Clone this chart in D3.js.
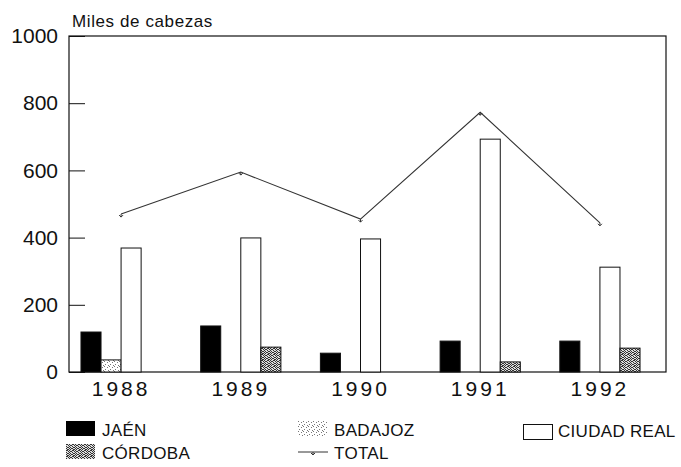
<!DOCTYPE html>
<html>
<head>
<meta charset="utf-8">
<script src="https://d3js.org/d3.v7.min.js"></script>
<style>
  body { margin: 0; background: #fff; }
  svg text { font-family: "Liberation Sans", Arial, sans-serif; fill: #111; }
</style>
</head>
<body>
<div id="my_dataviz"></div>
<script>

// data (miles de cabezas)
var years = ["1988", "1989", "1990", "1991", "1992"];
var series = ["JAÉN", "BADAJOZ", "CIUDAD REAL", "CÓRDOBA"];
var jaen = [119, 137, 56, 92, 92];
var badajoz = [36, 0, 0, 0, 0];
var ciudadReal = [369, 399, 396, 693, 312];
var cordoba = [0, 74, 0, 30, 71];
var total = [470, 595, 455, 773, 444];
var yTicks = [0, 200, 400, 600, 800, 1000];

var values = [jaen, badajoz, ciudadReal, cordoba];

var width = 681, height = 467;
var margin = {top: 36, right: 15, bottom: 95, left: 69};
var plotW = width - margin.left - margin.right,
    plotH = height - margin.top - margin.bottom;

var svg = d3.select("#my_dataviz")
  .append("svg")
    .attr("width", width)
    .attr("height", height);

// fill patterns for the scanned look
var defs = svg.append("defs");
var pBad = defs.append("pattern")
  .attr("id", "pat-badajoz")
  .attr("patternUnits", "userSpaceOnUse")
  .attr("width", 5).attr("height", 5);
pBad.append("rect").attr("width", 5).attr("height", 5).attr("fill", "#fff");
[[0, 0], [3, 1], [1, 3], [4, 4]].forEach(function(p) {
  pBad.append("rect").attr("x", p[0]).attr("y", p[1])
    .attr("width", 1).attr("height", 1).attr("fill", "#777");
});

var pCor = defs.append("pattern")
  .attr("id", "pat-cordoba")
  .attr("patternUnits", "userSpaceOnUse")
  .attr("width", 6).attr("height", 6);
pCor.append("rect").attr("width", 6).attr("height", 6).attr("fill", "#ddd");
[[0, 0], [1, 0], [3, 0], [2, 1], [4, 1], [5, 1], [0, 2], [3, 2], [1, 3], [2, 3], [4, 3],
 [5, 4], [0, 4], [3, 4], [1, 5], [2, 5], [4, 5]].forEach(function(p) {
  pCor.append("rect").attr("x", p[0]).attr("y", p[1])
    .attr("width", 1).attr("height", 1).attr("fill", "#333");
});

var fills = {
  "JAÉN": "#000",
  "BADAJOZ": "url(#pat-badajoz)",
  "CIUDAD REAL": "#fff",
  "CÓRDOBA": "url(#pat-cordoba)"
};

var g = svg.append("g")
  .attr("transform", "translate(" + margin.left + "," + margin.top + ")");

// scales (groups sit a bit left of centre in the original)
var x0 = d3.scaleBand()
  .domain(years)
  .range([0, plotW - 14])
  .paddingInner(0.33)
  .paddingOuter(0.1);

var x1 = d3.scaleBand()
  .domain(series)
  .range([0, x0.bandwidth()]);

var y = d3.scaleLinear()
  .domain([0, 1000])
  .range([plotH, 0]);

// frame
g.append("rect")
  .attr("width", plotW)
  .attr("height", plotH)
  .attr("fill", "none")
  .attr("stroke", "#111")
  .attr("stroke-width", 1.2);

// y axis, ticks pointing inward
var yAxis = g.append("g")
  .call(d3.axisLeft(y).tickValues(yTicks).tickFormat(d3.format("d"))
    .tickSizeInner(-16).tickSizeOuter(0).tickPadding(11));
yAxis.select(".domain").remove();
yAxis.selectAll("line").attr("stroke", "#111");
yAxis.selectAll("text")
  .style("font-size", "21px")
  .attr("fill", "#111");

// x axis labels
var xAxis = g.append("g")
  .attr("transform", "translate(0," + plotH + ")")
  .call(d3.axisBottom(x0).tickSize(0).tickPadding(9));
xAxis.select(".domain").remove();
xAxis.selectAll("text")
  .style("font-size", "21px")
  .style("letter-spacing", "3px")
  .attr("fill", "#111");

// bars
var rows = [];
years.forEach(function(yr, i) {
  series.forEach(function(s, j) {
    rows.push({year: yr, key: s, value: values[j][i]});
  });
});

g.selectAll("rect.bar")
  .data(rows.filter(function(d) { return d.value > 0; }))
  .enter()
  .append("rect")
    .attr("class", "bar")
    .attr("x", function(d) { return x0(d.year) + x1(d.key); })
    .attr("y", function(d) { return y(d.value); })
    .attr("width", x1.bandwidth())
    .attr("height", function(d) { return plotH - y(d.value); })
    .attr("fill", function(d) { return fills[d.key]; })
    .attr("stroke", "#111")
    .attr("stroke-width", 1);

// total line
var cx = function(yr) { return x0(yr) + x0.bandwidth() / 2; };
var line = d3.line()
  .x(function(d, i) { return cx(years[i]); })
  .y(function(d) { return y(d); });

g.append("path")
  .datum(total)
  .attr("d", line)
  .attr("fill", "none")
  .attr("stroke", "#333")
  .attr("stroke-width", 1.1);

g.selectAll("path.mark")
  .data(total)
  .enter()
  .append("path")
    .attr("class", "mark")
    .attr("transform", function(d, i) { return "translate(" + cx(years[i]) + "," + y(d) + ")"; })
    .attr("d", "M-2,1L0,3L2,1M0,0L0,3")
    .attr("fill", "none")
    .attr("stroke", "#333")
    .attr("stroke-width", 1);

// unit label
svg.append("text")
  .attr("x", 72)
  .attr("y", 27)
  .style("font-size", "17px")
  .style("letter-spacing", "0.6px")
  .text("Miles de cabezas");

// legend
var legendItems = [
  {key: "JAÉN", col: 0, row: 0},
  {key: "BADAJOZ", col: 1, row: 0},
  {key: "CIUDAD REAL", col: 2, row: 0},
  {key: "CÓRDOBA", col: 0, row: 1},
  {key: "TOTAL", col: 1, row: 1}
];
var colX = [66, 298, 523], rowY = [421, 444];

var leg = svg.selectAll("g.legend")
  .data(legendItems)
  .enter()
  .append("g")
    .attr("class", "legend")
    .attr("transform", function(d) { return "translate(" + colX[d.col] + "," + rowY[d.row] + ")"; });

leg.filter(function(d) { return d.key !== "TOTAL"; })
  .append("rect")
    .attr("x", function(d) { return d.key === "CIUDAD REAL" ? 0.5 : 0; })
    .attr("y", function(d) { return d.key === "CIUDAD REAL" ? 3.5 : 0; })
    .attr("width", 29)
    .attr("height", 15)
    .attr("fill", function(d) { return fills[d.key]; })
    .attr("stroke", function(d) { return d.key === "CIUDAD REAL" ? "#111" : "none"; });

var totLeg = leg.filter(function(d) { return d.key === "TOTAL"; });
totLeg.append("line")
  .attr("x1", 0).attr("x2", 30)
  .attr("y1", 8).attr("y2", 8)
  .attr("stroke", "#333");
totLeg.append("path")
  .attr("d", "M13,9L15,11L17,9M15,8L15,11")
  .attr("fill", "none")
  .attr("stroke", "#333");

leg.append("text")
  .attr("x", function(d) { return d.key === "CIUDAD REAL" ? 35 : 36; })
  .attr("y", function(d) { return d.key === "CIUDAD REAL" ? 16 : 15; })
  .style("font-size", "17px")
  .style("letter-spacing", "0.3px")
  .text(function(d) { return d.key; });

</script>
</body>
</html>
